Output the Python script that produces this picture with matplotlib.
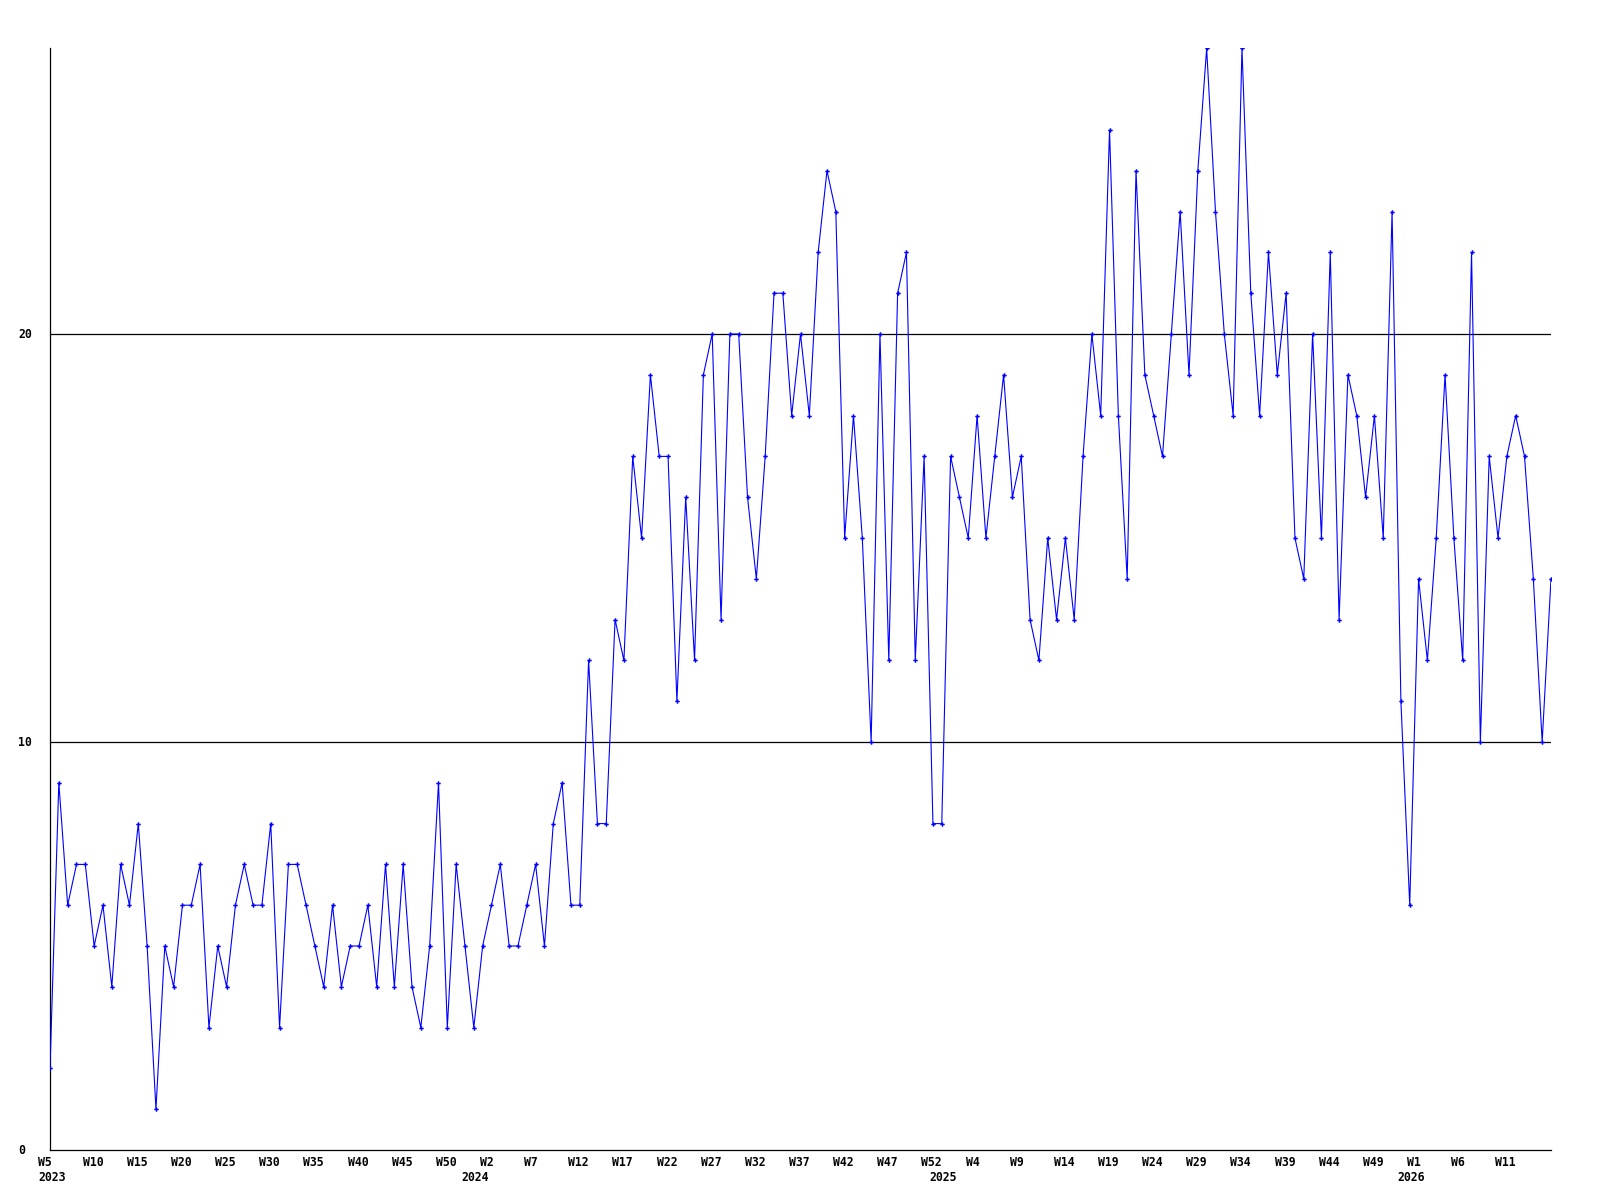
import matplotlib
matplotlib.use("Agg")
import matplotlib.pyplot as plt
from matplotlib.transforms import blended_transform_factory, ScaledTranslation

# ---- data -------------------------------------------------------------
start_year = 2023
start_week = 5
weeks_per_year = 53          # the chart's week numbering runs up to W53
values = [
    2, 9, 6, 7, 7, 5, 6, 4, 7, 6, 8, 5, 1, 5, 4, 6, 6, 7, 3, 5, 4, 6, 7, 6, 6, 8, 3, 7, 7,
    6, 5, 4, 6, 4, 5, 5, 6, 4, 7, 4, 7, 4, 3, 5, 9, 3, 7, 5, 3, 5, 6, 7, 5, 5, 6, 7, 5,
    8, 9, 6, 6, 12, 8, 8, 13, 12, 17, 15, 19, 17, 17, 11, 16, 12, 19, 20, 13, 20, 20, 16, 14,
    17, 21, 21, 18, 20,
    18, 22, 24, 23, 15, 18, 15, 10, 20, 12, 21, 22, 12, 17, 8, 8, 17, 16, 15, 18, 15, 17, 19,
    16, 17, 13, 12,
    15, 13, 15, 13, 17, 20, 18, 25, 18, 14, 24, 19, 18, 17, 20, 23, 19, 24, 27, 23, 20, 18,
    27, 21, 18, 22, 19, 21, 15,
    14, 20, 15, 22, 13, 19, 18, 16, 18, 15, 23, 11, 6, 14, 12, 15, 19, 15, 12, 22, 10, 17,
    15, 17, 18, 17, 14, 10, 14,
]
y_ticks = [0, 10, 20]
label_every = 5

# per-point week / year categories
weeks, years = [], []
w, yr = start_week, start_year
for _ in values:
    weeks.append(w)
    years.append(yr)
    w += 1
    if w > weeks_per_year:
        w = 1
        yr += 1

# ---- figure -----------------------------------------------------------
W, H = 1600, 1200
fig = plt.figure(figsize=(16, 12), dpi=100)
x_left, x_right = 50, 1551
y_top, y_bot = 48.4, 1150
ax = fig.add_axes([x_left / W, (H - y_bot) / H, (x_right - x_left) / W, (y_bot - y_top) / H])

x = list(range(len(values)))
ax.set_xlim(0, len(values) - 1)
ax.set_ylim(0, max(values))

for t in y_ticks[1:]:
    ax.axhline(t, color="black", linewidth=0.9, zorder=1)

ax.plot(x, values, color=(0, 0, 1), linewidth=0.8, marker="P", markersize=3.2,
        markeredgewidth=0, zorder=3)

for s in ["top", "right"]:
    ax.spines[s].set_visible(False)
for s in ["left", "bottom"]:
    ax.spines[s].set_color("black")
    ax.spines[s].set_linewidth(0.9)
ax.set_xticks([])
ax.set_yticks([])

font = dict(family="DejaVu Sans Mono", weight="bold", size=8.3, color="black")

# y labels
ytr = blended_transform_factory(fig.transFigure, ax.transData)
for t in y_ticks:
    ax.text(18 / W, t, str(t), transform=ytr, ha="left", va="center", **font)

# x labels (no label on the very last point)
xtr = blended_transform_factory(ax.transData, fig.transFigure)
wk_off = ScaledTranslation(-11.5 / 100, 0, fig.dpi_scale_trans)
for i in range(0, len(values) - 1, label_every):
    ax.text(i, (H - 1166) / H, f"W{weeks[i]}", transform=xtr + wk_off,
            ha="left", va="baseline", **font)

# year labels: first point, then at each W1
yr_off_first = ScaledTranslation(-12 / 100, 0, fig.dpi_scale_trans)
yr_off = ScaledTranslation(-7.5 / 100, 0, fig.dpi_scale_trans)
ax.text(0, (H - 1181) / H, str(years[0]), transform=xtr + yr_off_first,
        ha="left", va="baseline", **font)
for i in range(1, len(values)):
    if weeks[i] == 1:
        ax.text(i, (H - 1181) / H, str(years[i]), transform=xtr + yr_off,
                ha="center", va="baseline", **font)

fig.savefig("out.png", dpi=100, facecolor="white")
